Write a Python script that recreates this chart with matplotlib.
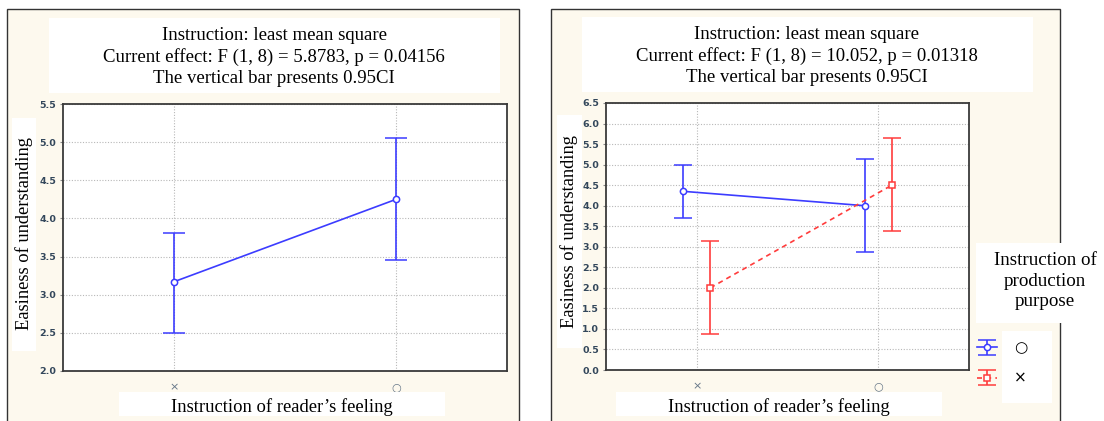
import numpy as np
import matplotlib.pyplot as plt
from matplotlib.patches import Rectangle

# data
cats = ['×', '○']

left_mean = [3.17, 4.25]
left_lo = [2.50, 3.45]
left_hi = [3.81, 5.06]

blue_mean = [4.35, 4.00]
blue_lo = [3.70, 2.88]
blue_hi = [5.00, 5.13]

red_mean = [2.00, 4.50]
red_lo = [0.87, 3.39]
red_hi = [3.15, 5.64]

left_title = ("Instruction: least mean square\n"
              "Current effect: F (1, 8) = 5.8783, p = 0.04156\n"
              "The vertical bar presents 0.95CI")
right_title = ("Instruction: least mean square\n"
               "Current effect: F (1, 8) = 10.052, p = 0.01318\n"
               "The vertical bar presents 0.95CI")
ylab = "Easiness of understanding"
xlab = "Instruction of reader’s feeling"
leg_title = "Instruction of\nproduction\npurpose"
leg_labels = ['○', '×']

W, H = 1104, 421
cream = '#fdf9ee'
blue = '#3c3cff'
red = '#ff3c3c'
tickcol = '#33475b'
serif = 'Liberation Serif'

fig = plt.figure(figsize=(W / 100, H / 100), dpi=100)


def box(x0, y0, x1, y1, fc='white', ec='none', lw=0, z=1):
    r = Rectangle((x0 / W, 1 - y1 / H), (x1 - x0) / W, (y1 - y0) / H,
                  transform=fig.transFigure, facecolor=fc, edgecolor=ec,
                  linewidth=lw, zorder=z)
    fig.add_artist(r)
    return r


def ftext(x, y, s, clip=None, va='center', **kw):
    t = fig.text(x / W, 1 - y / H, s, ha='center', va=va, **kw)
    if clip is not None:
        t.set_clip_path(clip)
    return t


def yerr(mean, lo, hi):
    m = np.array(mean)
    return [m - np.array(lo), np.array(hi) - m]


def style_axes(ax, ymin, ymax):
    ax.set_xlim(-0.5, 1.5)
    ax.set_ylim(ymin, ymax)
    ax.set_yticks(np.arange(ymin, ymax + 0.01, 0.5))
    ax.set_yticklabels([f"{v:.1f}" for v in np.arange(ymin, ymax + 0.01, 0.5)])
    ax.set_xticks([0, 1])
    ax.set_xticklabels(cats, color='#667788', fontsize=8)
    ax.grid(True, linestyle=(0, (1, 1.5)), color='#b8b8b8', linewidth=0.8)
    ax.set_axisbelow(True)
    for s in ax.spines.values():
        s.set_color('#3a3a3a')
        s.set_linewidth(1.3)
    ax.tick_params(axis='y', length=2, width=0.8, color='#888888', pad=3,
                   labelsize=6.8, labelcolor=tickcol)
    ax.tick_params(axis='x', length=0, pad=8)
    for lab in ax.get_yticklabels():
        lab.set_fontweight('bold')


# panel frames
box(7, 9, 519, 430, fc=cream, ec='#333333', lw=1, z=0)
box(551, 9, 1060, 430, fc=cream, ec='#333333', lw=1, z=0)

# ---- left panel ----
box(49, 18, 500, 93)
ftext(274, 57, left_title, family=serif, fontsize=13.5, linespacing=1.32)
box(12, 118, 36, 351)
ftext(24, 234, ylab, family=serif, fontsize=13.3, rotation=90)
clip_l = box(119, 392, 445, 416)
ftext(282, 412, xlab, clip=clip_l, va='baseline', family=serif, fontsize=13.4)

ax1 = fig.add_axes([63 / W, 1 - 371 / H, 444 / W, 267 / H])
x = np.arange(len(cats))
ax1.errorbar(x, left_mean, yerr=yerr(left_mean, left_lo, left_hi),
             color=blue, lw=1.2, capsize=8, capthick=1.2, marker='o', ms=4.5,
             mfc='white', mec=blue, mew=1.1)
style_axes(ax1, 2.0, 5.5)

# ---- right panel ----
box(582, 17, 1033, 92)
ftext(807, 56, right_title, family=serif, fontsize=13.5, linespacing=1.32)
box(557, 115, 582, 348)
ftext(569, 231, ylab, family=serif, fontsize=13.3, rotation=90)
clip_r = box(616, 392, 942, 416)
ftext(779, 412, xlab, clip=clip_r, va='baseline', family=serif, fontsize=13.4)

ax2 = fig.add_axes([606 / W, 1 - 370 / H, 363 / W, 267 / H])
off = 0.075
eb_blue = ax2.errorbar(x - off, blue_mean, yerr=yerr(blue_mean, blue_lo, blue_hi),
                       color=blue, lw=1.2, capsize=6.5, capthick=1.2, marker='o',
                       ms=4.5, mfc='white', mec=blue, mew=1.1)
eb_red = ax2.errorbar(x + off, red_mean, yerr=yerr(red_mean, red_lo, red_hi),
                      color=red, lw=1.2, capsize=6.5, capthick=1.2, marker='s',
                      ms=4, mfc='white', mec=red, mew=1.1)
eb_red[0].set_linestyle((0, (3, 2.5)))
style_axes(ax2, 0.0, 6.5)

# legend
box(976, 243, 1104, 323, z=3)
ftext(1045, 281, leg_title, family=serif, fontsize=13.7, linespacing=1.3,
      zorder=4)
box(1002, 331, 1052, 403, z=3)
leg = fig.legend([eb_blue, eb_red], leg_labels, loc='upper left',
                 bbox_to_anchor=(969 / W, 1 - 333 / H), frameon=False,
                 fontsize=11, handlelength=1.3, handletextpad=1.15,
                 labelspacing=1.0, borderpad=0, numpoints=1)
leg.set_zorder(5)

plt.savefig("out.png", dpi=100)
